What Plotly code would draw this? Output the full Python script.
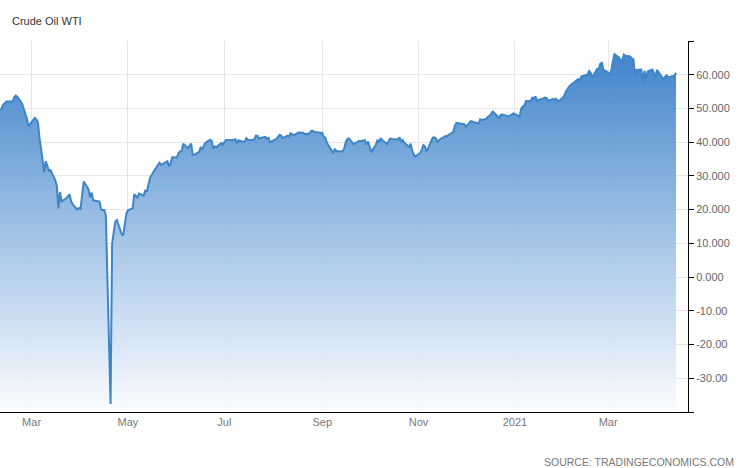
import plotly.graph_objects as go

# ---- data (WTI crude, daily closes) ----
dates_2020 = [
    "2020-02-10","2020-02-11","2020-02-12","2020-02-13","2020-02-14","2020-02-18","2020-02-19","2020-02-20","2020-02-21",
    "2020-02-24","2020-02-25","2020-02-26","2020-02-27","2020-02-28",
    "2020-03-02","2020-03-03","2020-03-04","2020-03-05","2020-03-06","2020-03-09","2020-03-10","2020-03-11","2020-03-12","2020-03-13",
    "2020-03-16","2020-03-17","2020-03-18","2020-03-19","2020-03-20","2020-03-23","2020-03-24","2020-03-25","2020-03-26","2020-03-27",
    "2020-03-30","2020-03-31",
    "2020-04-01","2020-04-02","2020-04-03","2020-04-06","2020-04-07","2020-04-08","2020-04-09","2020-04-13","2020-04-14","2020-04-15",
    "2020-04-16","2020-04-17","2020-04-20","2020-04-21","2020-04-22","2020-04-23","2020-04-24","2020-04-27","2020-04-28","2020-04-29","2020-04-30",
    "2020-05-01","2020-05-04","2020-05-05","2020-05-06","2020-05-07","2020-05-08","2020-05-11","2020-05-12","2020-05-13","2020-05-14","2020-05-15",
    "2020-05-18","2020-05-19","2020-05-20","2020-05-21","2020-05-22","2020-05-26","2020-05-27","2020-05-28","2020-05-29",
    "2020-06-01","2020-06-02","2020-06-03","2020-06-04","2020-06-05","2020-06-08","2020-06-09","2020-06-10","2020-06-11","2020-06-12",
    "2020-06-15","2020-06-16","2020-06-17","2020-06-18","2020-06-19","2020-06-22","2020-06-23","2020-06-24","2020-06-25","2020-06-26",
    "2020-06-29","2020-06-30",
    "2020-07-01","2020-07-02","2020-07-06","2020-07-07","2020-07-08","2020-07-09","2020-07-10","2020-07-13","2020-07-14","2020-07-15",
    "2020-07-16","2020-07-17","2020-07-20","2020-07-21","2020-07-22","2020-07-23","2020-07-24","2020-07-27","2020-07-28","2020-07-29",
    "2020-07-30","2020-07-31",
    "2020-08-03","2020-08-04","2020-08-05","2020-08-06","2020-08-07","2020-08-10","2020-08-11","2020-08-12","2020-08-13","2020-08-14",
    "2020-08-17","2020-08-18","2020-08-19","2020-08-20","2020-08-21","2020-08-24","2020-08-25","2020-08-26","2020-08-27","2020-08-28","2020-08-31",
    "2020-09-01","2020-09-02","2020-09-03","2020-09-04","2020-09-08","2020-09-09","2020-09-10","2020-09-11","2020-09-14","2020-09-15",
    "2020-09-16","2020-09-17","2020-09-18","2020-09-21","2020-09-22","2020-09-23","2020-09-24","2020-09-25","2020-09-28","2020-09-29","2020-09-30",
    "2020-10-01","2020-10-02","2020-10-05","2020-10-06","2020-10-07","2020-10-08","2020-10-09","2020-10-12","2020-10-13","2020-10-14",
    "2020-10-15","2020-10-16","2020-10-19","2020-10-20","2020-10-21","2020-10-22","2020-10-23","2020-10-26","2020-10-27","2020-10-28",
    "2020-10-29","2020-10-30",
    "2020-11-02","2020-11-03","2020-11-04","2020-11-05","2020-11-06","2020-11-09","2020-11-10","2020-11-11","2020-11-12","2020-11-13",
    "2020-11-16","2020-11-17","2020-11-18","2020-11-19","2020-11-20","2020-11-23","2020-11-24","2020-11-25","2020-11-27","2020-11-30",
    "2020-12-01","2020-12-02","2020-12-03","2020-12-04","2020-12-07","2020-12-08","2020-12-09","2020-12-10","2020-12-11","2020-12-14",
    "2020-12-15","2020-12-16","2020-12-17","2020-12-18","2020-12-21","2020-12-22","2020-12-23","2020-12-24","2020-12-28","2020-12-29",
    "2020-12-30","2020-12-31",
]
values_2020 = [
    49.57,49.94,51.17,51.42,52.05,52.05,53.29,53.78,53.38,
    51.43,49.90,48.73,47.09,44.76,
    46.75,47.18,46.78,45.90,41.28,31.13,34.36,32.98,31.50,31.73,
    28.70,26.95,20.37,25.22,22.43,23.36,24.01,24.49,22.60,21.51,
    20.09,20.48,
    20.31,25.32,28.34,26.08,23.63,25.09,22.76,22.41,20.11,19.87,
    19.87,18.27,-37.63,10.01,13.78,16.50,16.94,12.78,12.34,15.06,18.84,
    19.78,20.39,24.56,23.99,23.55,24.74,24.14,25.78,25.29,27.56,29.43,
    31.82,32.50,33.49,33.92,33.25,34.35,32.81,33.71,35.49,
    35.44,36.81,37.29,37.41,39.55,38.19,38.94,39.60,36.34,36.26,
    37.12,38.38,37.96,38.84,39.75,40.73,40.37,38.01,38.72,38.49,
    39.70,39.27,
    39.82,40.65,40.63,40.62,40.90,39.62,40.55,40.10,40.29,41.20,
    40.75,40.59,40.81,41.96,41.90,41.07,41.29,41.60,41.04,41.27,
    39.92,40.27,
    41.01,41.70,42.19,41.95,41.22,41.94,41.61,42.67,42.24,42.01,
    42.89,42.89,42.93,42.82,42.34,42.62,43.35,43.39,43.04,42.97,42.61,
    42.76,41.51,41.37,39.77,36.76,38.05,37.30,37.33,37.26,38.28,
    40.16,40.97,41.11,39.31,39.80,39.93,40.31,40.25,40.60,39.29,40.22,
    38.72,37.05,39.22,40.67,39.95,41.19,40.60,39.43,40.20,41.04,
    40.96,40.88,40.83,41.46,40.03,40.64,39.85,38.56,39.57,37.39,
    36.17,35.79,
    36.81,37.66,39.15,38.79,37.14,40.29,41.36,41.45,41.12,40.13,
    41.34,41.43,41.82,41.74,42.15,43.06,44.91,45.71,45.53,45.34,
    44.55,45.28,45.64,46.26,45.76,45.60,45.52,46.78,46.57,46.99,
    47.62,47.82,48.36,49.10,47.74,47.02,48.12,48.23,47.62,48.00,
    48.40,48.52,
]
dates_2021 = [
    "2021-01-04","2021-01-05","2021-01-06","2021-01-07","2021-01-08","2021-01-11","2021-01-12","2021-01-13","2021-01-14","2021-01-15",
    "2021-01-19","2021-01-20","2021-01-21","2021-01-22","2021-01-25","2021-01-26","2021-01-27","2021-01-28","2021-01-29",
    "2021-02-01","2021-02-02","2021-02-03","2021-02-04","2021-02-05","2021-02-08","2021-02-09","2021-02-10","2021-02-11","2021-02-12",
    "2021-02-16","2021-02-17","2021-02-18","2021-02-19","2021-02-22","2021-02-23","2021-02-24","2021-02-25","2021-02-26",
    "2021-03-01","2021-03-02","2021-03-03","2021-03-04","2021-03-05","2021-03-08","2021-03-09","2021-03-10","2021-03-11","2021-03-12",
    "2021-03-15","2021-03-16","2021-03-17","2021-03-18","2021-03-19","2021-03-22","2021-03-23","2021-03-24","2021-03-25","2021-03-26",
    "2021-03-29","2021-03-30","2021-03-31",
    "2021-04-01","2021-04-05","2021-04-06","2021-04-07","2021-04-08","2021-04-09","2021-04-12","2021-04-13",
]
values_2021 = [
    47.62,49.93,50.63,50.83,52.24,52.25,53.21,52.91,53.57,52.36,
    52.98,53.24,53.13,52.27,52.77,52.61,52.85,52.34,52.20,
    53.55,54.76,55.69,56.23,56.85,57.97,58.36,58.68,58.24,59.47,
    60.05,61.14,60.52,59.24,61.70,61.67,63.22,63.53,61.50,
    60.64,59.75,61.28,63.83,66.09,65.05,64.01,64.44,66.02,65.61,
    65.39,64.80,64.60,60.00,61.42,61.55,57.76,61.18,58.56,60.97,
    61.56,60.55,59.16,
    61.45,58.65,59.33,59.77,59.32,59.32,59.70,60.60,
]
dates = dates_2020 + dates_2021
values = values_2020 + values_2021

x_tick_dates = ["2020-03-01","2020-05-01","2020-07-01","2020-09-01","2020-11-01","2021-01-01","2021-03-01"]
x_tick_labels = ["Mar","May","Jul","Sep","Nov","2021","Mar"]
y_tick_vals = [-40,-30,-20,-10,0,10,20,30,40,50,60,70]
y_tick_labels = ["","-30.00","-20.00","-10.00","0.000","10.000","20.000","30.000","40.000","50.000","60.000",""]
y_floor = -40
y_ceiling = 70
x_start, x_end = "2020-02-10", "2021-04-20 14:00"

fig = go.Figure()
# invisible baseline at the bottom of the plot, so the fill reaches the axis
fig.add_trace(go.Scatter(x=dates, y=[y_floor]*len(dates), mode="lines",
                         line=dict(width=0, color="rgba(0,0,0,0)"),
                         hoverinfo="skip", showlegend=False))
fig.add_trace(go.Scatter(
    x=dates, y=values, mode="lines",
    line=dict(color="#3d85c6", width=2),
    fill="tonexty",
    fillgradient=dict(type="vertical", start=y_floor, stop=y_ceiling,
                      colorscale=[[0, "rgba(250,252,254,0.85)"],
                                  [0.4, "rgba(165,197,232,0.86)"],
                                  [1, "rgba(36,114,194,0.9)"]]),
    showlegend=False,
))

fig.update_layout(
    width=746, height=468,
    margin=dict(l=0, r=58, t=41, b=56, autoexpand=False),
    paper_bgcolor="white", plot_bgcolor="white",
    font=dict(family="Liberation Sans, Arial, sans-serif", size=11, color="#666666"),
    showlegend=False,
    annotations=[
        dict(text="Crude Oil WTI", xref="paper", yref="paper", x=10/688, y=1+20/371,
             xanchor="left", yanchor="middle", showarrow=False,
             font=dict(size=11, color="#333333")),
        dict(text="SOURCE: TRADINGECONOMICS.COM", xref="paper", yref="paper",
             x=736/688, y=-50/371, xanchor="right", yanchor="middle", showarrow=False,
             font=dict(size=10.5, color="#777777")),
    ],
)
fig.update_xaxes(
    type="date", range=[x_start, x_end], automargin=False,
    tickvals=x_tick_dates, ticktext=x_tick_labels,
    showgrid=True, gridcolor="#e6e6e6", gridwidth=1,
    showline=True, linecolor="black", linewidth=1,
    ticks="", tickfont=dict(size=11, color="#777777"),
    zeroline=False, fixedrange=True,
)
fig.update_yaxes(
    side="right", range=[y_floor, y_ceiling], automargin=False,
    tickvals=y_tick_vals, ticktext=y_tick_labels,
    showgrid=True, gridcolor="#e6e6e6", gridwidth=1,
    showline=True, linecolor="black", linewidth=1,
    ticks="outside", ticklen=5, tickcolor="black",
    tickfont=dict(size=11, color="#666666"),
    zeroline=False, fixedrange=True,
)

fig.write_html("out.html", config={"displayModeBar": False},
               post_script="document.body.style.margin='0';document.body.style.overflow='hidden';")
